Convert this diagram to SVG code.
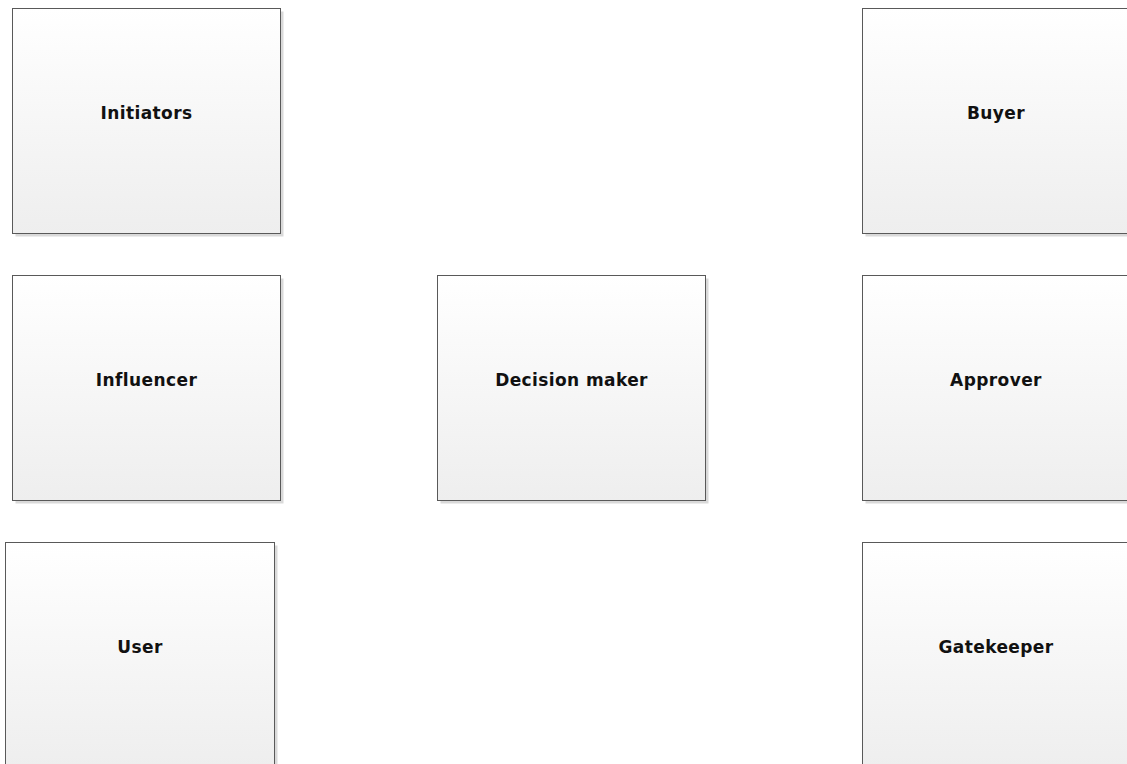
<svg xmlns="http://www.w3.org/2000/svg" width="1127" height="764" viewBox="0 0 1127 764">
<style>
.box{fill:url(#g);stroke:#595959;stroke-width:1}
.sh{fill:#d9d9d9}
.lbl{font-family:"DejaVu Sans",Verdana,sans-serif;font-weight:bold;font-size:17px;fill:#111;text-anchor:middle;letter-spacing:0.4px}
</style>
<defs>
<linearGradient id="g" x1="0" y1="0" x2="0" y2="1">
<stop offset="0" stop-color="#ffffff"/>
<stop offset="1" stop-color="#eeeeee"/>
</linearGradient>
</defs>
<rect width="1127" height="764" fill="#ffffff"/>
<g id="connectors"></g>
<g id="initiators">
<rect class="sh" x="15.5" y="11.5" width="268" height="225"/>
<rect class="box" x="12.5" y="8.5" width="268" height="225"/>
<text class="lbl" x="146.5" y="119">Initiators</text>
</g>
<g id="buyer">
<rect class="sh" x="865.5" y="11.5" width="268" height="225"/>
<rect class="box" x="862.5" y="8.5" width="268" height="225"/>
<text class="lbl" x="996" y="119">Buyer</text>
</g>
<g id="influencer">
<rect class="sh" x="15.5" y="278.5" width="268" height="225"/>
<rect class="box" x="12.5" y="275.5" width="268" height="225"/>
<text class="lbl" x="146.5" y="386">Influencer</text>
</g>
<g id="decision-maker">
<rect class="sh" x="440.5" y="278.5" width="268" height="225"/>
<rect class="box" x="437.5" y="275.5" width="268" height="225"/>
<text class="lbl" x="571.5" y="386">Decision maker</text>
</g>
<g id="approver">
<rect class="sh" x="865.5" y="278.5" width="268" height="225"/>
<rect class="box" x="862.5" y="275.5" width="268" height="225"/>
<text class="lbl" x="996" y="386">Approver</text>
</g>
<g id="user">
<rect class="sh" x="8.5" y="545.5" width="269" height="225"/>
<rect class="box" x="5.5" y="542.5" width="269" height="225"/>
<text class="lbl" x="140" y="653">User</text>
</g>
<g id="gatekeeper">
<rect class="sh" x="865.5" y="545.5" width="268" height="225"/>
<rect class="box" x="862.5" y="542.5" width="268" height="225"/>
<text class="lbl" x="996" y="653">Gatekeeper</text>
</g>
</svg>
